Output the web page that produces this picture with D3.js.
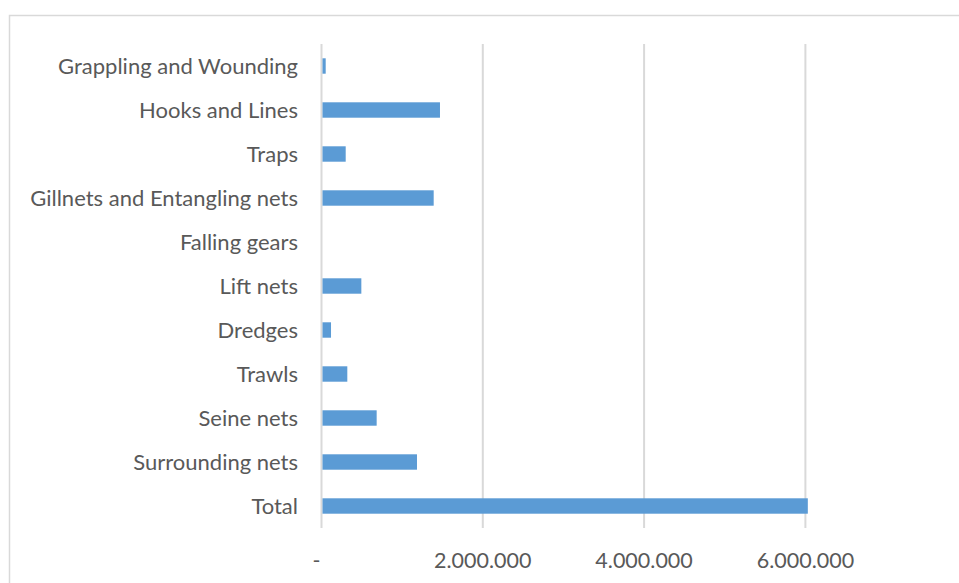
<!DOCTYPE html>
<html><head><meta charset="utf-8">
<script src="https://cdn.jsdelivr.net/npm/d3@7"></script>
<style>body{margin:0;background:#fff;}svg{display:block;}</style>
</head><body>
<svg id="c" width="959" height="583"></svg>
<script>
const categories = ["Grappling and Wounding","Hooks and Lines","Traps","Gillnets and Entangling nets","Falling gears","Lift nets","Dredges","Trawls","Seine nets","Surrounding nets","Total"];
const values = [52000,1469000,300000,1391000,0,494000,118000,320000,684000,1184000,6030000];
const tickValues = [0,2000000,4000000,6000000];
const tickLabels = ["-","2.000.000","4.000.000","6.000.000"];

const svg = d3.select("#c");
const font = "Lato, 'Open Sans', sans-serif";
// chart border
svg.append("rect").attr("x",9.5).attr("y",15.5).attr("width",1000).attr("height",1000)
  .attr("fill","none").attr("stroke","#d9d9d9").attr("stroke-width",1.5);

const x = d3.scaleLinear().domain([0,8000000]).range([321.5,966.7]);
const y = d3.scaleBand().domain(categories).range([44,528]).paddingInner(0.65).paddingOuter(0.325);

// gridlines
svg.append("g").selectAll("line").data(tickValues).join("line")
  .attr("x1",d=>x(d)).attr("x2",d=>x(d)).attr("y1",44).attr("y2",528)
  .attr("stroke","#d9d9d9").attr("stroke-width",2);

// bars
svg.append("g").selectAll("rect").data(categories).join("rect")
  .attr("x",x(0)+1).attr("y",d=>y(d))
  .attr("width",(d,i)=>Math.max(0,x(values[i])-x(0)-1)).attr("height",y.bandwidth())
  .attr("fill","#5b9bd5");

// category labels
svg.append("g").selectAll("text").data(categories).join("text")
  .attr("x",298).attr("y",d=>y(d)+y.bandwidth()/2+7.5)
  .attr("text-anchor","end").attr("font-family",font).attr("font-size",22)
  .attr("fill","#595959").text(d=>d);

// x tick labels
svg.append("g").selectAll("text").data(tickValues).join("text")
  .attr("x",(d,i)=>i===0?x(d)-5:x(d)).attr("y",568)
  .attr("text-anchor","middle").attr("font-family",font).attr("font-size",21.5)
  .attr("fill","#595959").text((d,i)=>tickLabels[i]);
</script>
</body></html>
